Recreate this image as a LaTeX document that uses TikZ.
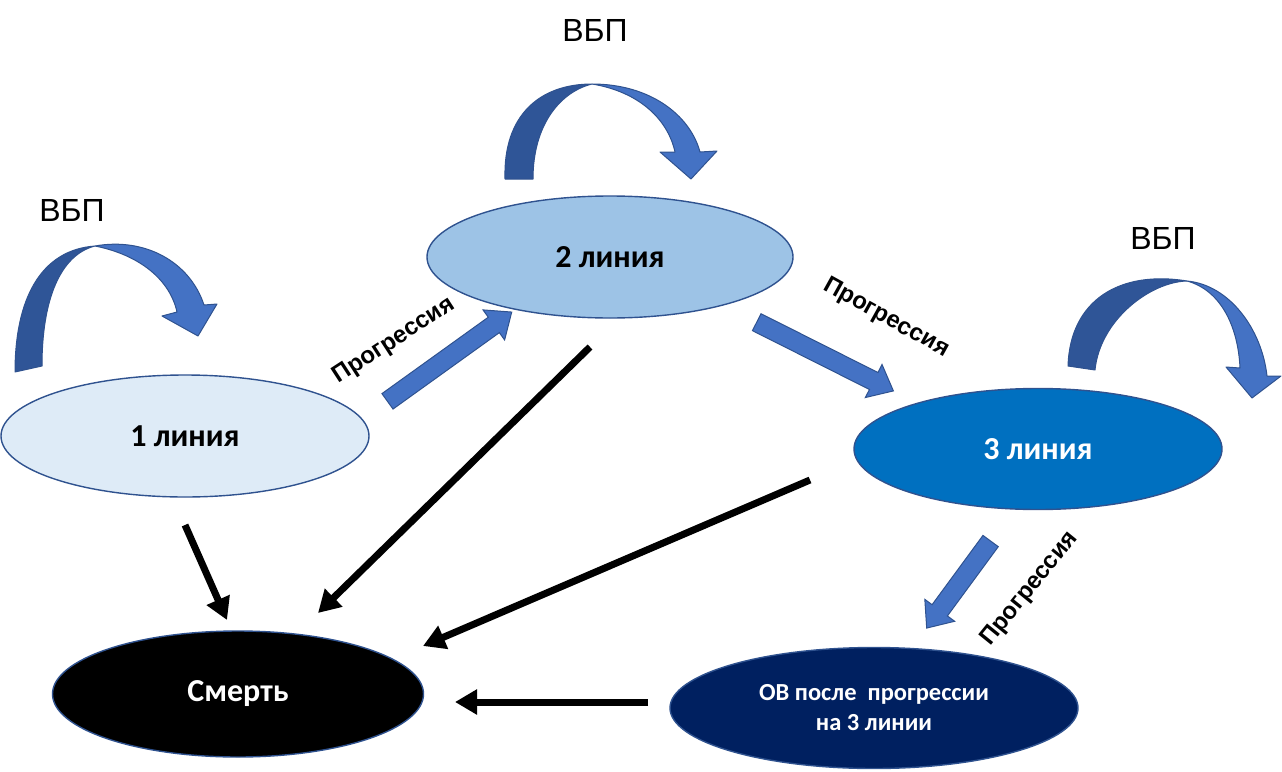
\documentclass[tikz,border=0pt]{standalone}
\usepackage{fontspec}
\setmainfont{Liberation Sans}
\newfontfamily\calibri{Carlito}
\usetikzlibrary{arrows.meta,shapes.geometric,shapes.arrows,positioning}

\definecolor{edgeblue}{HTML}{2F528F}
\definecolor{arrowblue}{HTML}{4472C4}
\definecolor{arrowdark}{HTML}{2F5597}
\definecolor{lineone}{HTML}{DEEBF7}
\definecolor{linetwo}{HTML}{9DC3E6}
\definecolor{linethree}{HTML}{0070C0}
\definecolor{osnavy}{HTML}{002060}

\tikzset{
  state/.style={ellipse, draw=edgeblue, line width=1.4pt, inner sep=0pt,
    minimum width=368pt, minimum height=122pt, align=center,
    font=\calibri\bfseries\fontsize{32}{36}\selectfont},
  vbp/.style={font=\fontsize{32}{36}\selectfont},
  proglabel/.style={font=\bfseries\fontsize{24}{28}\selectfont, inner sep=1pt},
  progarrow/.style={single arrow, draw=edgeblue, fill=arrowblue, line width=1pt,
    inner xsep=0pt, inner ysep=9pt, minimum width=36pt, single arrow head extend=9pt,
    single arrow tip angle=80},
  loopdark/.style={fill=arrowdark, draw=edgeblue, line width=1pt, line join=round},
  looplight/.style={fill=arrowblue, draw=edgeblue, line width=1pt, line join=round},
  deatharrow/.style={line width=7pt, -{Triangle[length=22pt,width=24pt]}}
}

\begin{document}
\begin{tikzpicture}[x=1pt,y=-1pt]
  \useasboundingbox (0,0) rectangle (1282,771);

  % states
  \node[state, fill=lineone] (l1) at (185,436) {1 линия};
  \node[state, fill=linetwo, minimum width=366pt] (l2) at (610,257) {2 линия};
  \node[state, fill=linethree, text=white, minimum height=121pt] (l3) at (1038,449) {3 линия};
  \node[state, fill=black, text=white, minimum width=371pt, minimum height=126pt] (death) at (238,694) {Смерть};
  \node[state, fill=osnavy, text=white, minimum width=408pt, minimum height=121pt,
    font=\calibri\bfseries\fontsize{24.5}{30}\selectfont] (os) at (874,708) {ОВ после~ прогрессии\\на 3 линии};

  % ВБП loops
  \node[vbp] (vbp1) at (72,210) {ВБП};
  \node[vbp] (vbp2) at (595,30) {ВБП};
  \node[vbp] (vbp3) at (1163,238) {ВБП};

  \draw[loopdark] (15,372) .. controls (15,300) and (40,250) .. (95,246)
    .. controls (60,255) and (42,300) .. (42,366) -- cycle;
  \draw[looplight] (95,246) .. controls (145,237) and (190,262) .. (204,305)
    -- (217,304) -- (198,336) -- (162,316) -- (177,312)
    .. controls (170,280) and (140,255) .. (95,246) -- cycle;

  \draw[loopdark] (505,179) .. controls (503,115) and (540,84) .. (592,84)
    .. controls (560,92) and (533,125) .. (533,179) -- cycle;
  \draw[looplight] (592,84) .. controls (650,84) and (690,115) .. (700,152)
    -- (717,151) -- (691,179) -- (660,152) -- (675,152)
    .. controls (668,120) and (640,92) .. (592,84) -- cycle;

  \draw[loopdark] (1068,366) .. controls (1070,300) and (1120,270) .. (1187,281)
    .. controls (1150,282) and (1100,320) .. (1095,370) -- cycle;
  \draw[looplight] (1187,281) .. controls (1230,285) and (1262,330) .. (1267,376)
    -- (1281,376) -- (1252,398) -- (1226,367) -- (1240,368)
    .. controls (1238,325) and (1220,290) .. (1187,281) -- cycle;

  % progression
  \node[progarrow, minimum height=153pt, rotate=35.7] (p12) at (445,360) {};
  \node[progarrow, minimum height=153pt, rotate=-26.7] (p23) at (820,354) {};
  \node[progarrow, minimum height=108pt, rotate=-126.3] (p3os) at (962,580) {};
  \node[proglabel, rotate=33] (lab12) at (394,341) {Прогрессия};
  \node[proglabel, rotate=-29] (lab23) at (886,318) {Прогрессия};
  \node[proglabel, rotate=51] (lab3os) at (1030,589) {Прогрессия};

  % death
  \coordinate (d1) at (185,525);  \coordinate (e1) at (227,620);
  \coordinate (d2) at (590,347);  \coordinate (e2) at (318,613);
  \coordinate (d3) at (810,480);  \coordinate (e3) at (423,646);
  \coordinate (d4) at (648,702);  \coordinate (e4) at (455,702);
  \draw[deatharrow] (d1) -- (e1);
  \draw[deatharrow] (d2) -- (e2);
  \draw[deatharrow] (d3) -- (e3);
  \draw[deatharrow] (d4) -- (e4);
\end{tikzpicture}
\end{document}
